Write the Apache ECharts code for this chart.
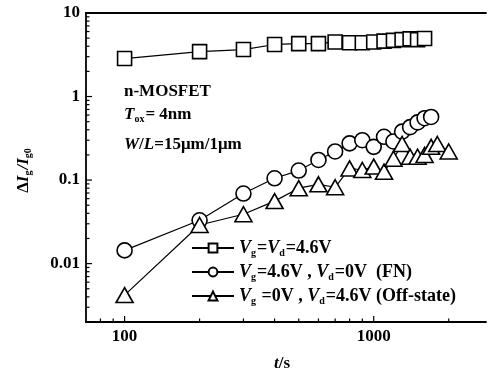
<!DOCTYPE html>
<html>
<head>
<meta charset="utf-8">
<script src="https://cdn.jsdelivr.net/npm/echarts@6/dist/echarts.min.js"></script>
<style>
  html, body { margin: 0; padding: 0; background: #fff; }
  #chart { width: 489px; height: 374px; }
</style>
</head>
<body>
<div id="chart"></div>
<script>
// Stress time (s) and relative gate-current change for the three stress conditions
const tSquare = [100, 200, 300, 400, 500, 600, 700, 800, 900, 1000, 1100, 1200, 1300, 1400, 1500, 1600];
const vSquare = [2.85, 3.45, 3.65, 4.2, 4.3, 4.3, 4.5, 4.4, 4.4, 4.5, 4.6, 4.7, 4.8, 4.9, 4.8, 4.95];

const tCircle = [100, 200, 300, 400, 500, 600, 700, 800, 900, 1000, 1100, 1200, 1300, 1400, 1500, 1600, 1700];
const vCircle = [0.0144, 0.033, 0.069, 0.105, 0.13, 0.174, 0.22, 0.275, 0.30, 0.25, 0.33, 0.29, 0.38, 0.43, 0.49, 0.55, 0.57];

const tTriangle = [100, 200, 300, 400, 500, 600, 700, 800, 900, 1000, 1100, 1200, 1300, 1400, 1500, 1600, 1700, 1800, 2000];
const vTriangle = [0.0042, 0.029, 0.039, 0.056, 0.08, 0.089, 0.082, 0.138, 0.132, 0.145, 0.126, 0.18, 0.27, 0.19, 0.19, 0.2, 0.25, 0.27, 0.22];

const seriesNames = ['Vg=Vd=4.6V', 'Vg=4.6V, Vd=0V (FN)', 'Vg=0V, Vd=4.6V (Off-state)'];

// Axis ranges and tick values
const X_MIN = 70, X_MAX = 2823;
const Y_MIN = 0.002, Y_MAX = 10;
const xMajorTicks = [100, 1000];
const xTickLabels = ['100', '1000'];
const xMinorTicks = [80, 90, 200, 300, 400, 500, 600, 700, 800, 900, 2000];
const yMajorTicks = [0.01, 0.1, 1, 10];
const yTickLabels = ['0.01', '0.1', '1', '10'];
const yMinorTicks = [0.003, 0.004, 0.005, 0.006, 0.007, 0.008, 0.009,
                     0.02, 0.03, 0.04, 0.05, 0.06, 0.07, 0.08, 0.09,
                     0.2, 0.3, 0.4, 0.5, 0.6, 0.7, 0.8, 0.9,
                     2, 3, 4, 5, 6, 7, 8, 9];

const SERIF = "'Liberation Serif', 'DejaVu Serif', serif";

function pairs(xs, ys) { return xs.map((x, i) => [x, ys[i]]); }

function labelFor(values, labels) {
  return function (v) {
    for (let i = 0; i < values.length; i++) {
      if (Math.abs(Math.log10(v) - Math.log10(values[i])) < 1e-6) return labels[i];
    }
    return '';
  };
}

// Inside tick marks drawn through the axis scales
function tickSeries(data, axis, len) {
  return {
    type: 'custom',
    silent: true,
    clip: false,
    z: 5,
    data: data,
    renderItem: function (params, api) {
      const p = api.coord([api.value(0), api.value(1)]);
      const shape = axis === 'y'
        ? { x1: p[0], y1: p[1], x2: p[0] + len, y2: p[1] }
        : { x1: p[0], y1: p[1], x2: p[0], y2: p[1] - len };
      return { type: 'line', shape: shape, style: { stroke: '#000', lineWidth: 1.2 } };
    }
  };
}

const markerStyle = { color: '#fff', borderColor: '#000', borderWidth: 1.6 };
const lineStyle = { color: '#000', width: 1.2 };

function dataSeries(name, data, symbol, size) {
  return {
    name: name,
    type: 'line',
    data: data,
    symbol: symbol,
    symbolSize: size,
    showAllSymbol: true,
    lineStyle: lineStyle,
    itemStyle: markerStyle,
    emphasis: { disabled: true },
    animation: false,
    z: 3
  };
}

const richLegend = {
  t: { fontFamily: SERIF, fontSize: 18, fontWeight: 'bold', color: '#000' },
  v: { fontFamily: SERIF, fontSize: 18, fontWeight: 'bold', fontStyle: 'italic', color: '#000' },
  s: { fontFamily: SERIF, fontSize: 10, fontWeight: 'bold', color: '#000', padding: [10, 1, 0, 0] }
};

const legendText = {};
legendText[seriesNames[0]] = '{v|V}{s|g}{t|=}{v|V}{s|d}{t|=4.6V}';
legendText[seriesNames[1]] = '{v|V}{s|g}{t|=4.6V , }{v|V}{s|d}{t|=0V  (FN)}';
legendText[seriesNames[2]] = '{v|V}{s|g}{t| =0V , }{v|V}{s|d}{t|=4.6V (Off-state)}';

const chart = echarts.init(document.getElementById('chart'), null, { renderer: 'canvas' });

chart.setOption({
  backgroundColor: '#fff',
  animation: false,
  grid: { left: 86, top: 13, right: 0, bottom: 52 },
  xAxis: [
    {
      type: 'log', logBase: 10, min: X_MIN, max: X_MAX,
      axisLine: { show: true, lineStyle: { color: '#000', width: 1.8 } },
      axisTick: { show: false },
      splitLine: { show: false },
      axisLabel: {
        show: true, margin: 6, color: '#000',
        fontFamily: SERIF, fontSize: 17, fontWeight: 'bold',
        formatter: labelFor(xMajorTicks, xTickLabels)
      }
    },
    {
      type: 'log', logBase: 10, min: X_MIN, max: X_MAX, position: 'top',
      axisLine: { show: true, onZero: false, lineStyle: { color: '#000', width: 1.8 } },
      axisTick: { show: false }, axisLabel: { show: false }, splitLine: { show: false }
    }
  ],
  yAxis: {
    type: 'log', logBase: 10, min: Y_MIN, max: Y_MAX,
    axisLine: { show: true, lineStyle: { color: '#000', width: 1.8 } },
    axisTick: { show: false },
    splitLine: { show: false },
    axisLabel: {
      show: true, margin: 6, color: '#000',
      fontFamily: SERIF, fontSize: 17, fontWeight: 'bold',
      formatter: labelFor(yMajorTicks, yTickLabels)
    }
  },
  legend: {
    data: seriesNames,
    orient: 'vertical',
    left: 186, top: 234,
    itemWidth: 42, itemHeight: 11, itemGap: 5,
    selectedMode: false,
    formatter: function (name) { return legendText[name]; },
    textStyle: { color: '#000', fontFamily: SERIF, fontSize: 18, fontWeight: 'bold', rich: richLegend }
  },
  graphic: [
    {
      type: 'text', left: 124, top: 83,
      style: { text: 'n-MOSFET', font: "bold 17px 'Liberation Serif', serif", fill: '#000' }
    },
    {
      type: 'text', left: 124, top: 106,
      style: {
        text: '{v|T}{s|ox}{t|= 4nm}',
        rich: {
          t: { fontFamily: SERIF, fontSize: 17, fontWeight: 'bold', fill: '#000' },
          v: { fontFamily: SERIF, fontSize: 17, fontWeight: 'bold', fontStyle: 'italic', fill: '#000' },
          s: { fontFamily: SERIF, fontSize: 10, fontWeight: 'bold', fill: '#000', padding: [9, 1, 0, 0] }
        }
      }
    },
    {
      type: 'text', left: 124, top: 136,
      style: {
        text: '{v|W}{t|/}{v|L}{t|=15μm/1μm}',
        rich: {
          t: { fontFamily: SERIF, fontSize: 17, fontWeight: 'bold', fill: '#000' },
          v: { fontFamily: SERIF, fontSize: 17, fontWeight: 'bold', fontStyle: 'italic', fill: '#000' }
        }
      }
    },
    {
      type: 'text', x: 24, y: 170, rotation: Math.PI / 2,
      style: {
        text: '{t|Δ}{v|I}{s|g}{v|/I}{s|g0}',
        align: 'center', verticalAlign: 'middle',
        rich: {
          t: { fontFamily: SERIF, fontSize: 17, fontWeight: 'bold', fill: '#000' },
          v: { fontFamily: SERIF, fontSize: 17, fontWeight: 'bold', fontStyle: 'italic', fill: '#000' },
          s: { fontFamily: SERIF, fontSize: 10, fontWeight: 'bold', fill: '#000', padding: [9, 1, 0, 0] }
        }
      }
    },
    {
      type: 'text', x: 282, y: 364,
      style: {
        text: '{v|t}{t|/s}',
        align: 'center', verticalAlign: 'middle',
        rich: {
          t: { fontFamily: SERIF, fontSize: 17, fontWeight: 'bold', fill: '#000' },
          v: { fontFamily: SERIF, fontSize: 17, fontWeight: 'bold', fontStyle: 'italic', fill: '#000' }
        }
      }
    }
  ],
  series: [
    dataSeries(seriesNames[0], pairs(tSquare, vSquare), 'rect', 14),
    dataSeries(seriesNames[1], pairs(tCircle, vCircle), 'circle', 15),
    dataSeries(seriesNames[2], pairs(tTriangle, vTriangle), 'triangle', [17, 15]),
    tickSeries(yMajorTicks.map(v => [X_MIN, v]), 'y', 6),
    tickSeries(yMinorTicks.map(v => [X_MIN, v]), 'y', 3.5),
    tickSeries(xMajorTicks.map(t => [t, Y_MIN]), 'x', 6),
    tickSeries(xMinorTicks.map(t => [t, Y_MIN]), 'x', 3.5)
  ]
});
</script>
</body>
</html>
